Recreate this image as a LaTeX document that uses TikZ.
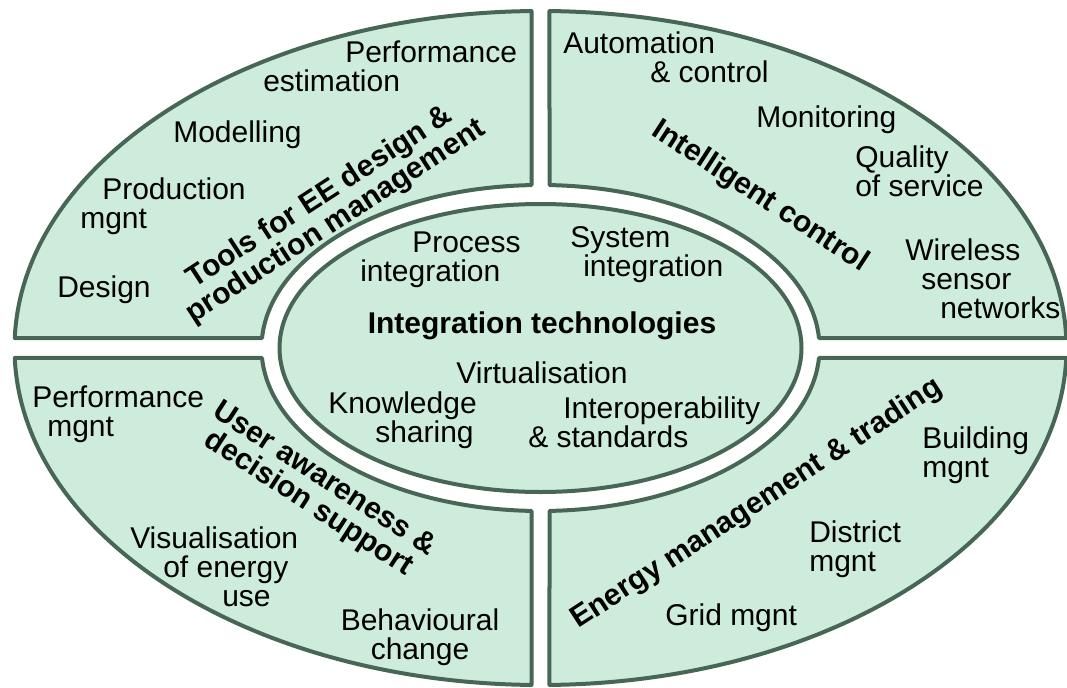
\documentclass[tikz,border=0pt]{standalone}
\usepackage{fontspec}
\setmainfont{Liberation Sans}

\definecolor{segfill}{RGB}{205,236,220}
\definecolor{segline}{RGB}{72,102,86}

\begin{document}
\begin{tikzpicture}[x=0.75pt, y=-0.75pt,
    seg/.style={fill=segfill, draw=segline, line width=3pt, line join=round},
    lbl/.style={inner sep=0pt, align=left, anchor=north west, font=\fontsize{22.5}{21.75}\selectfont},
    title/.style={inner sep=0pt, align=center, font=\fontsize{22.5}{21.75}\selectfont\bfseries}]
    \useasboundingbox (0,0) rectangle (1067,688);

    % half gaps and cut angles of the four segments
    \pgfmathsetmacro\oa{acos(9/526)}
    \pgfmathsetmacro\ob{asin(10/337)}
    \pgfmathsetmacro\ia{acos(9/279)}
    \pgfmathsetmacro\ib{asin(10/163)}

    \begin{scope}[shift={(540.5,348)}]
        \draw[seg] (-\oa:526 and 337) arc[start angle=-\oa, end angle=-\ob, x radius=526, y radius=337]
            -- (-\ib:279 and 163) arc[start angle=-\ib, end angle=-\ia, x radius=279, y radius=163] -- cycle;
        \draw[seg] (\ob-180:526 and 337) arc[start angle=\ob-180, end angle=\oa-180, x radius=526, y radius=337]
            -- (\ia-180:279 and 163) arc[start angle=\ia-180, end angle=\ib-180, x radius=279, y radius=163] -- cycle;
        \draw[seg] (180-\oa:526 and 337) arc[start angle=180-\oa, end angle=180-\ob, x radius=526, y radius=337]
            -- (180-\ib:279 and 163) arc[start angle=180-\ib, end angle=180-\ia, x radius=279, y radius=163] -- cycle;
        \draw[seg] (\ob:526 and 337) arc[start angle=\ob, end angle=\oa, x radius=526, y radius=337]
            -- (\ia:279 and 163) arc[start angle=\ia, end angle=\ib, x radius=279, y radius=163] -- cycle;
        \draw[seg] (0,0) ellipse[x radius=261, y radius=144];
    \end{scope}

    % tools
    \node[lbl] (perfest) at (263,40.5) {\hspace*{61.5pt}Performance\\estimation};
    \node[lbl] (model) at (173,120.5) {Modelling};
    \node[lbl] (prod) at (80,177.5) {\hspace*{16.5pt}Production\\mgnt};
    \node[lbl] (design) at (57,275.5) {Design};
    \node[title, rotate=33] (tools) at (328,210) {Tools for EE design \&\\production management};

    % intelligent control
    \node[lbl] (auto) at (563,31.5) {Automation\\\hspace*{65.25pt}\& control};
    \node[lbl] (monit) at (756,105.5) {Monitoring};
    \node[lbl] (qos) at (855,145.5) {Quality\\of service};
    \node[lbl] (wsn) at (905,238.5) {Wireless\\\hspace*{12pt}sensor\\\hspace*{26.25pt}networks};
    \node[title, rotate=-33] (intel) at (760,197) {Intelligent control};

    % user awareness
    \node[lbl] (perfm) at (32,385.5) {Performance\\\hspace*{11.25pt}mgnt};
    \node[lbl] (visu) at (130,526.5) {Visualisation\\\hspace*{24.75pt}of energy\\\hspace*{69pt}use};
    \node[lbl, align=center, anchor=north] (behav) at (420,608.5) {Behavioural\\change};
    \node[title, rotate=-33] (user) at (316,492) {User awareness \&\\decision support};

    % energy management
    \node[lbl] (build) at (922,426.5) {Building\\mgnt};
    \node[lbl] (distr) at (809,520.5) {District\\mgnt};
    \node[lbl] (grid) at (665,603.5) {Grid mgnt};
    \node[title, rotate=33] (energy) at (757,504) {Energy management \& trading};

    % integration
    \node[lbl] (proc) at (360,231.5) {\hspace*{39pt}Process\\integration};
    \node[lbl] (sys) at (570,226.5) {System\\\hspace*{9.75pt}integration};
    \node[title, anchor=north] (integ) at (542,311.5) {Integration technologies};
    \node[lbl, anchor=north] (virt) at (542,361.5) {Virtualisation};
    \node[lbl] (know) at (328,391.5) {Knowledge\\\hspace*{35.25pt}sharing};
    \node[lbl] (inter) at (528,396.5) {\hspace*{26.25pt}Interoperability\\\& standards};
\end{tikzpicture}
\end{document}
